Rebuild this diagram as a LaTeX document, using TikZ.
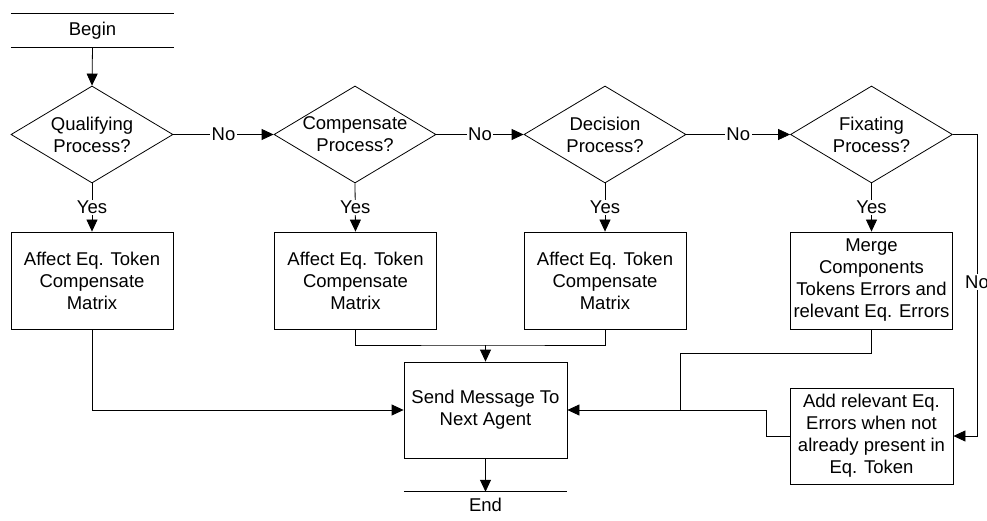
\documentclass[tikz,border=0pt]{standalone}
\usepackage{fontspec}
\setmainfont{Liberation Sans}
\usetikzlibrary{shapes.geometric,arrows.meta}
\begin{document}
\begin{tikzpicture}[x=1pt,y=-1pt,
  font=\fontsize{18.5}{22}\selectfont,
  line/.style={draw=black, line width=0.8pt},
  arr/.style={line, -{Triangle[length=12pt,width=11pt]}},
  dec/.style={shape=diamond, draw=black, line width=0.8pt, minimum width=162pt, minimum height=97pt, inner sep=0pt},
  proc/.style={draw=black, line width=0.8pt, rectangle, minimum width=162pt, minimum height=97pt, align=center, inner sep=2pt},
  term/.style={minimum width=163pt, inner sep=0pt},
  lbl/.style={fill=white, inner sep=1.5pt},
  dectext/.style={align=center}
]
\useasboundingbox (0,0) rectangle (987,521);

% terminals
\node[term, minimum height=33pt] (begin) at (92.5,30.5) {Begin};
\draw[line] (begin.north west) -- (begin.north east) (begin.south west) -- (begin.south east);

% decisions
\node[dec, label={[dectext]center:Qualifying\\Process?}] (d1) at (92,134.5) {};
\node[dec, label={[dectext]center:Compensate\\Process?}] (d2) at (355,134.5) {};
\node[dec, label={[dectext]center:Decision\\Process?}] (d3) at (605,134.5) {};
\node[dec, label={[dectext]center:Fixating\\Process?}] (d4) at (871.5,134.5) {};

% process boxes
\node[proc] (b1) at (92,280.5) {Affect Eq. Token\\Compensate\\Matrix};
\node[proc] (b2) at (355.5,280.5) {Affect Eq. Token\\Compensate\\Matrix};
\node[proc] (b3) at (605,280.5) {Affect Eq. Token\\Compensate\\Matrix};
\node[proc] (b4) at (871.5,280.5) {Merge\\Components\\Tokens Errors and\\relevant Eq. Errors};
\node[proc, minimum width=163pt, minimum height=96pt] (send) at (485.5,410) {Send Message To\\Next Agent};
\node[proc, minimum width=163pt, minimum height=96pt] (add) at (871.5,436) {Add relevant Eq.\\Errors when not\\already present in\\Eq. Token};

\node[term, minimum height=26pt] (end) at (485.5,505) {End};
\draw[line] (end.north west) -- (end.north east);

% helper coordinates
\coordinate (m23) at (485.5,345);
\coordinate (j4) at (680,353);
\coordinate (k) at (766,410);
\coordinate (r) at (977,134.5);

% connectors
\draw[arr] (begin.south) -- (d1.north);
\draw[arr] (d1.east) -- node[lbl]{No} (d2.west);
\draw[arr] (d2.east) -- node[lbl]{No} (d3.west);
\draw[arr] (d3.east) -- node[lbl]{No} (d4.west);

\draw[arr] (d1.south) -- node[lbl]{Yes} (b1.north);
\draw[arr] (d2.south) -- node[lbl]{Yes} (b2.north);
\draw[arr] (d3.south) -- node[lbl]{Yes} (b3.north);
\draw[arr] (d4.south) -- node[lbl]{Yes} (b4.north);

\draw[arr] (b1.south) |- (send.west);
\draw[line] (b2.south) |- (m23) -| (b3.south);
\draw[arr] (m23) -- (send.north);
\draw[line] (b4.south) |- (j4) -- (j4 |- send.east);
\draw[arr] (add.west) -| (k) -- (send.east);
\draw[arr] (d4.east) -- (r) |- node[lbl, pos=0.245]{No} (add.east);
\draw[arr] (send.south) -- (end.north);
\end{tikzpicture}
\end{document}
